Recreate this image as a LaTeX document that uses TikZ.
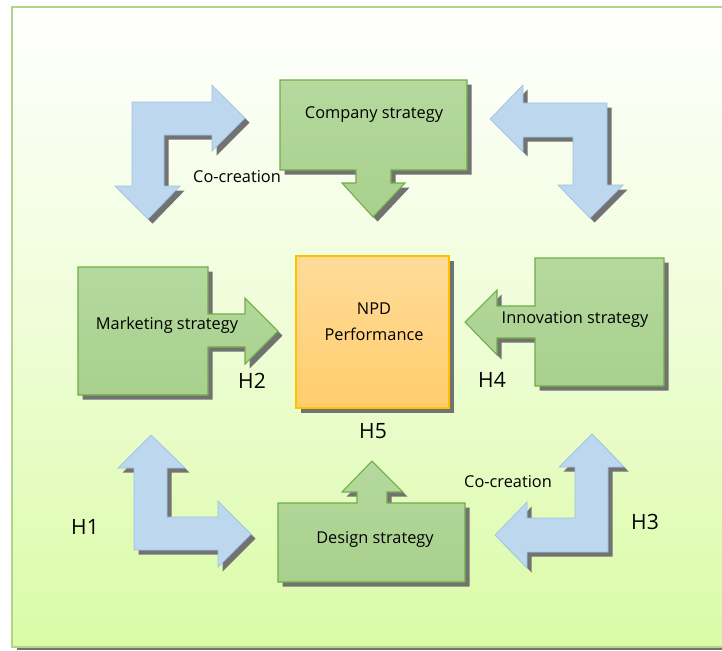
\documentclass[tikz,border=0pt]{standalone}
\usepackage{fontspec}
\setmainfont{Open Sans}
\definecolor{framegreen}{HTML}{B4D38A}
\definecolor{backgreen}{HTML}{DAFBA6}
\definecolor{shadowgray}{HTML}{727272}
\definecolor{arrowblue}{HTML}{BDD7EE}
\definecolor{arrowedge}{HTML}{9DC3E6}
\definecolor{greentop}{HTML}{B5D99E}
\definecolor{greenbottom}{HTML}{A8D08D}
\definecolor{greenedge}{HTML}{70AD47}
\definecolor{orangetop}{HTML}{FFDB9B}
\definecolor{orangebottom}{HTML}{FFCD6B}
\definecolor{orangeedge}{HTML}{FFC000}
\begin{document}
\begin{tikzpicture}[x=0.02cm,y=-0.02cm,
		shadowed/.style={preaction={fill=shadowgray,transform canvas={xshift=2.6pt,yshift=-2.6pt}}},
		bluearrow/.style={shadowed,fill=arrowblue,draw=arrowedge,line width=0.4pt},
		greenblock/.style={shadowed,top color=greentop,bottom color=greenbottom,draw=greenedge,line width=0.6pt},
		orangeblock/.style={shadowed,top color=orangetop,bottom color=orangebottom,draw=orangeedge,line width=0.8pt},
		boxtext/.style={font=\fontsize{9.3}{15}\selectfont,inner sep=0pt},
		hyptext/.style={font=\fontsize{12}{14}\selectfont,inner sep=0pt}]
	\useasboundingbox (0,0) rectangle (722,650);
	\fill[shadowgray] (17,647) rectangle (735,650);
	\shade[top color=white,bottom color=backgreen,middle color=white!55!backgreen,draw=framegreen,line width=1.1pt] (12,7) rectangle (735,647);
	\draw[bluearrow] (245,118) -- (212,151) -- (212,135) -- (164,135) -- (164,186) -- (180,186) -- (148,219) -- (115,186) -- (132,186) -- (132,102) -- (212,102) -- (212,85) -- cycle;
	\draw[bluearrow] (490,119) -- (523,85) -- (523,103) -- (607,103) -- (607,185) -- (623,185) -- (590,218) -- (558,185) -- (573,185) -- (573,137) -- (523,137) -- (523,152) -- cycle;
	\draw[bluearrow] (151,435) -- (185,468) -- (167,468) -- (167,517) -- (218,517) -- (218,501) -- (251,534) -- (218,567) -- (218,550) -- (134,550) -- (134,468) -- (118,468) -- cycle;
	\draw[bluearrow] (592,434) -- (624,467) -- (608,467) -- (608,552) -- (527,552) -- (527,568) -- (495,535) -- (527,502) -- (527,518) -- (575,518) -- (575,467) -- (559,467) -- cycle;
	\draw[greenblock] (280,80) -- (467,80) -- (467,170) -- (391,170) -- (391,183) -- (405,183) -- (373,217) -- (342,183) -- (356,183) -- (356,170) -- (280,170) -- cycle;
	\draw[greenblock] (78,267) -- (208,267) -- (208,314) -- (245,314) -- (245,298) -- (278,331) -- (245,364) -- (245,347) -- (208,347) -- (208,395) -- (78,395) -- cycle;
	\draw[greenblock] (664,258) -- (664,386) -- (535,386) -- (535,338) -- (497,338) -- (497,355) -- (465,322) -- (497,290) -- (497,306) -- (535,306) -- (535,258) -- cycle;
	\draw[greenblock] (278,503) -- (357,503) -- (357,492) -- (342,492) -- (372,461) -- (403,492) -- (387,492) -- (387,503) -- (465,503) -- (465,582) -- (278,582) -- cycle;
	\draw[orangeblock] (296,256) rectangle (449,408);
	\node[boxtext] (company) at (374,115) {Company strategy};
	\node[boxtext] (marketing) at (167,325) {Marketing strategy};
	\node[boxtext] (innovation) at (575,319) {Innovation strategy};
	\node[boxtext] (design) at (375,539) {Design strategy};
	\node[boxtext,align=center] (npd) at (374,322) {NPD\\Performance};
	\node[boxtext] (cocreationtop) at (237,177) {Co-creation};
	\node[boxtext] (cocreationbottom) at (508,482) {Co-creation};
	\node[hyptext] (hone) at (85,527) {H1};
	\node[hyptext] (htwo) at (252,381) {H2};
	\node[hyptext] (hthree) at (645,522) {H3};
	\node[hyptext] (hfour) at (492,380) {H4};
	\node[hyptext] (hfive) at (373,431) {H5};
\end{tikzpicture}
\end{document}
